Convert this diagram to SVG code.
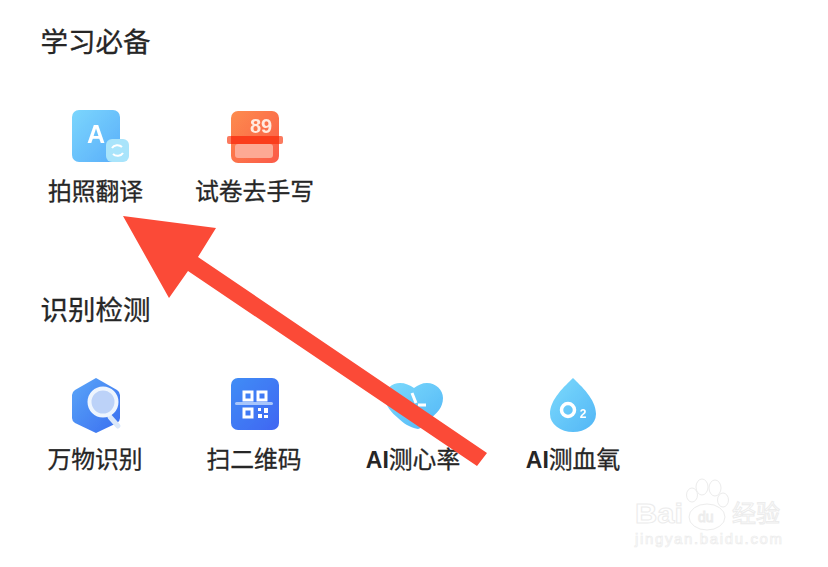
<svg xmlns="http://www.w3.org/2000/svg" width="828" height="567" viewBox="0 0 828 567">
<style>
text{font-family:"Noto Sans CJK SC","Noto Sans",sans-serif;fill:#262626}
.h{font-size:27.5px;font-weight:400;stroke:#262626;stroke-width:.3}
.l{font-size:23.8px;font-weight:400;text-anchor:middle;stroke:#262626;stroke-width:.3}
.la{font-family:"Liberation Sans",sans-serif;font-weight:700;font-size:23px;stroke-width:0}
.ic{filter:url(#s)}
.wm{fill:#fff;stroke:#ececec;stroke-width:1;font-family:"Liberation Sans",sans-serif}
.qr{fill:none;stroke:#fff;stroke-width:3}
</style>
<defs>
<filter id="s" x="-10%" y="-10%" width="120%" height="120%"><feGaussianBlur stdDeviation="0.5"/></filter>
<linearGradient id="a" x1="0" y1="0" x2="1" y2="1"><stop offset="0" stop-color="#7bd6fd"/><stop offset="1" stop-color="#5aaefa"/></linearGradient>
<linearGradient id="b" x1="0" y1="0" x2="1" y2="1"><stop offset="0" stop-color="#fd8c4e"/><stop offset="1" stop-color="#fb5a48"/></linearGradient>
<linearGradient id="c" x1="0" y1="0" x2="1" y2="1"><stop offset="0" stop-color="#5aa6f8"/><stop offset="1" stop-color="#3a6ef0"/></linearGradient>
<linearGradient id="d" x1="0" y1="0" x2="1" y2="1"><stop offset="0" stop-color="#3f8df6"/><stop offset="1" stop-color="#3f66f2"/></linearGradient>
<linearGradient id="e" x1="0" y1="0" x2="1" y2="1"><stop offset="0" stop-color="#7cdafc"/><stop offset="1" stop-color="#52b6f6"/></linearGradient>
</defs>
<rect width="828" height="567" fill="#fff"/>
<g id="title1"><text class="h" x="40.500" y="52">学习必备</text></g>
<g id="title2"><text class="h" x="40.500" y="320">识别检测</text></g>

<g id="node-translate">
<g class="ic">
<rect x="72" y="110" width="48" height="52" rx="7" fill="url(#a)"/>
<text x="96" y="143" text-anchor="middle" style="font-family:'Liberation Sans',sans-serif;font-size:25px;font-weight:700;fill:#fff">A</text>
<rect x="106" y="139" width="23" height="23" rx="6" fill="#a9e4fb"/>
<path d="M112 148a6 5 0 0 1 10-1M123 153a6 5 0 0 1-10 1" fill="none" stroke="#fff" stroke-width="2"/>
</g>
<text class="l" x="95.500" y="200">拍照翻译</text>
</g>
<g id="node-exam">
<g class="ic">
<rect x="231" y="111" width="48" height="52" rx="7" fill="url(#b)"/>
<rect x="235" y="144" width="38" height="14" rx="3" fill="#fda994"/>
<rect x="227" y="136" width="56" height="8" rx="2" fill="#fb7a5e"/>
<rect x="231" y="136" width="48" height="8" fill="#fa3c1e"/>
<text x="261" y="133" text-anchor="middle" style="font-family:'Liberation Sans',sans-serif;font-size:20px;font-weight:700;fill:#ffeadf">89</text>
</g>
<text class="l" x="254.500" y="200">试卷去手写</text>
</g>
<g id="node-recognize">
<g class="ic">
<path d="M96 378L117 390q3 2 3 5v23q0 3-3 5L96 433L75 423q-3-2-3-5v-23q0-3 3-5z" fill="url(#c)"/>
<path d="M110 417l8 9" stroke="#dbe8fa" stroke-width="5" stroke-linecap="round"/>
<circle cx="103" cy="402" r="13.500" fill="#bcd2f8" stroke="#eef5fe" stroke-width="4"/>
</g>
<text class="l" x="95" y="468">万物识别</text>
</g>
<g id="node-qr">
<g class="ic">
<rect x="231" y="378" width="48" height="52" rx="7" fill="url(#d)"/>
<rect class="qr" x="244" y="392" width="8" height="8"/><rect class="qr" x="258" y="392" width="8" height="8"/><rect class="qr" x="244" y="409" width="8" height="8"/>
<rect x="235" y="402" width="38" height="3" rx="1.500" fill="#a8c6fb"/>
<path d="M258 408h3v3h-3zM264 408h4v5h-4zM258 414h4v4h-4zM264 415h4v3h-4z" fill="#fff"/>
</g>
<text class="l" x="254" y="468">扫二维码</text>
</g>
<g id="node-heart">
<g class="ic">
<path d="M418 429c-9-2-15-6-20-11-6-5-13-12-13-21 0-8 7-14 15-14 5 0 10 2 14 5 4-3 8-5 13-5 9 0 16 7 16 15 0 10-7 16-12 20-4 5-7 9-13 11z" fill="url(#e)"/>
<path d="M412 393l4 10M418 405h8" stroke="#fff" stroke-width="3" fill="none"/>
</g>
<text class="l" x="413" y="468"><tspan class="la">AI</tspan>测心率</text>
</g>
<g id="node-oxygen">
<g class="ic">
<path d="M573 378c8 8 23 21 23 36a23 18 0 0 1-46 0c0-15 15-28 23-36z" fill="url(#e)"/>
<circle cx="568" cy="410" r="6.500" fill="none" stroke="#fff" stroke-width="3.500"/>
<text x="583" y="418" text-anchor="middle" style="font-family:'Liberation Sans',sans-serif;font-size:12px;font-weight:700;fill:#fff">2</text>
</g>
<text class="l" x="573" y="468"><tspan class="la">AI</tspan>测血氧</text>
</g>
<g id="connectors">
<path d="M123 216L216 228L198 257L487 453L477 466L188 271L169 298Z" fill="#fb4a37"/>
</g>
<g id="watermark">
<text class="wm" x="635" y="523" style="font-size:28px;font-weight:700" textLength="48" lengthAdjust="spacingAndGlyphs">Bai</text>
<ellipse cx="707" cy="517" rx="18" ry="13" fill="#fff" stroke="#ececec"/>
<text class="wm" x="698" y="522" style="font-size:14px">du</text>
<g fill="#fff" stroke="#ececec"><ellipse cx="692" cy="495" rx="5.500" ry="7"/><ellipse cx="702" cy="487" rx="6" ry="8"/><ellipse cx="715" cy="488" rx="6" ry="8"/><ellipse cx="723" cy="500" rx="5.500" ry="7"/></g>
<text class="wm" x="732" y="522" style="font-family:'Noto Sans CJK SC',sans-serif;font-size:24px">经验</text>
<text class="wm" x="635" y="544" style="font-size:15px;stroke-width:.7" textLength="147">jingyan.baidu.com</text>
</g>
</svg>
